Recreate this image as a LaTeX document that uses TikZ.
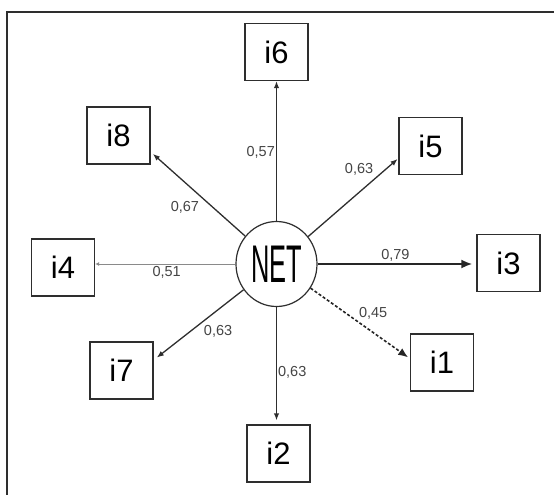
\documentclass[tikz,border=0pt]{standalone}
\usepackage{fontspec}
\setmainfont{Liberation Sans}
\usepackage{graphicx}
\usepackage{xcolor}
\usetikzlibrary{arrows.meta}
\usetikzlibrary{shapes}
\usetikzlibrary{positioning}

\definecolor{linegray}{HTML}{2E2E2E}
\definecolor{labelgray}{HTML}{444444}
\definecolor{weakgray}{HTML}{8A8A8A}

\begin{document}
\begin{tikzpicture}[x=1pt, y=-1pt, >={Latex[length=7pt, width=5.5pt]},
    item/.style={draw=linegray, line width=1.3pt, rectangle, minimum width=63pt,
      minimum height=57pt, inner sep=0pt, font=\fontsize{31}{31}\selectfont},
    factor/.style={draw=linegray, line width=1.2pt, ellipse, minimum width=81pt,
      minimum height=85pt, inner sep=0pt},
    load/.style={font=\fontsize{14.5}{14.5}\selectfont, text=labelgray, inner sep=1pt},
    link/.style={->, draw=linegray, line width=1.3pt}]
  \useasboundingbox (0,0) rectangle (554,495);
  % frame
  \draw[linegray, line width=2pt] (7,505) |- (565,12);

  \node[factor] (net) at (276.5,264) {\scalebox{0.48}[1]{\fontsize{53}{53}\selectfont NET}};
  \node[item] (i6) at (276.5,52)    {i6};
  \node[item] (i8) at (118.5,135.5) {i8};
  \node[item] (i5) at (430.5,146)   {i5};
  \node[item] (i4) at (63,267.5)    {i4};
  \node[item] (i3) at (508.5,263)   {i3};
  \node[item] (i7) at (121.5,370.5) {i7};
  \node[item] (i2) at (278.5,453.5) {i2};
  \node[item] (i1) at (442,362.5)   {i1};

  \draw[link] (net) -- (net |- i6.south)
    node[load, pos=0.49, left] {0,57};
  \draw[link, shorten >=3pt] (net) -- (i8.-27)
    node[load, pos=0.45, anchor=north east, inner sep=3pt] {0,67};
  \draw[link, shorten >=1pt] (net) -- (i5.201)
    node[load, pos=0.75, anchor=south east, inner sep=2pt] {0,63};
  \draw[-{Latex[length=4pt, width=4pt]}, draw=weakgray, line width=0.8pt] (net) -- (net -| i4.east)
    node[load, pos=0.49, below, inner sep=2pt] {0,51};
  \draw[-{Latex[length=11pt, width=9pt]}, draw=black!85, line width=2pt, shorten >=4pt] (net) -- (net -| i3.west)
    node[load, pos=0.49, above, inner sep=2pt] {0,79};
  \draw[-{Latex[length=10pt, width=8pt]}, draw=black!85, line width=1.6pt,
    dash pattern=on 3pt off 2pt, shorten >=2pt] (net) -- (i1.173)
    node[load, pos=0.47, anchor=south west] {0,45};
  \draw[link, shorten >=4pt] (net) -- (net |- i2.north)
    node[load, pos=0.56, right] {0,63};
  \draw[link, shorten >=4pt] (net) -- (i7.18)
    node[load, pos=0.47, anchor=north west, inner sep=2pt] {0,63};
\end{tikzpicture}
\end{document}
